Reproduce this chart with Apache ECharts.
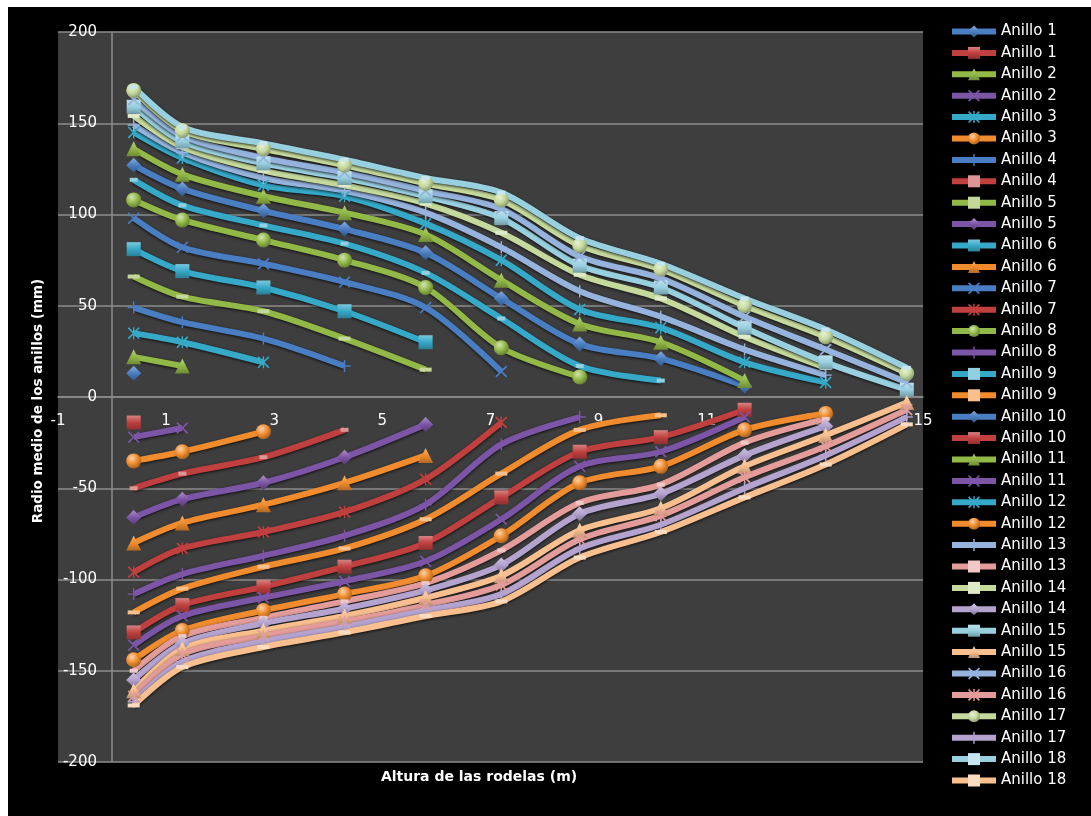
<!DOCTYPE html>
<html>
<head>
<meta charset="utf-8">
<script src="https://cdn.jsdelivr.net/npm/echarts@6/dist/echarts.min.js"></script>
<style>
  html, body { margin: 0; padding: 0; background: #ffffff; width: 1091px; height: 816px; overflow: hidden; }
  #chart { position: absolute; left: 8px; top: 7px; width: 1083px; height: 809px; background: #000000; }
</style>
</head>
<body>
<div id="chart"></div>
<script>
// Alturas de las rodelas (m)
const alturas = [0.4, 1.3, 2.8, 4.3, 5.8, 7.2, 8.65, 10.15, 11.7, 13.2, 14.7];

// Radio medio de cada anillo (mm), lado positivo, anillos 1..18
const radioSuperior = [
  [13],
  [22, 17],
  [35, 30, 19],
  [49, 41, 32, 17],
  [66, 55, 47, 32, 15],
  [81, 69, 60, 47, 30],
  [98, 82, 73, 63, 49, 14],
  [108, 97, 86, 75, 60, 27, 11],
  [119, 105, 94, 84, 68, 43, 17, 9],
  [127, 114, 102, 92, 79, 54, 29, 21, 6],
  [136, 122, 110, 101, 89, 64, 40, 30, 9],
  [145, 131, 116, 110, 95, 75, 48, 38, 19, 8],
  [149, 134, 120, 113, 101, 82, 58, 44, 26, 12],
  [154, 137, 124, 116, 106, 90, 67, 54, 33, 16],
  [159, 140, 128, 120, 110, 98, 72, 60, 38, 19, 4],
  [163, 143, 131, 123, 113, 103, 77, 65, 44, 26, 8],
  [168, 146, 136, 127, 117, 108, 83, 70, 50, 33, 13],
  [170, 148, 139, 130, 120, 112, 87, 73, 54, 37, 16]
];

// Radio medio de cada anillo (mm), lado negativo, anillos 1..18
const radioInferior = [
  [-14],
  [-22, -17],
  [-35, -30, -19],
  [-50, -42, -33, -18],
  [-66, -56, -47, -33, -15],
  [-80, -69, -59, -47, -32],
  [-96, -83, -74, -63, -45, -14],
  [-108, -97, -87, -76, -59, -26, -11],
  [-118, -105, -93, -83, -67, -42, -18, -10],
  [-129, -114, -104, -93, -80, -55, -30, -22, -7],
  [-136, -120, -110, -101, -90, -67, -38, -30, -11],
  [-144, -128, -117, -108, -98, -76, -47, -38, -18, -9],
  [-150, -131, -121, -112, -102, -84, -58, -48, -25, -12],
  [-155, -135, -124, -116, -106, -92, -64, -53, -32, -16],
  [-161, -138, -128, -120, -110, -98, -73, -61, -38, -21, -3],
  [-164, -141, -131, -123, -114, -103, -78, -65, -44, -27, -7],
  [-167, -145, -134, -126, -117, -108, -83, -70, -50, -32, -11],
  [-169, -148, -137, -129, -120, -112, -88, -74, -55, -37, -15]
];

const tituloY = 'Radio medio de los anillos (mm)';
const tituloX = 'Altura de las rodelas (m)';

// Paleta y marcadores en el orden de las series
const coloresBase = ['#4a7ec2', '#c0403f', '#92b847', '#7d55a6', '#36a9c8', '#f08c2e'];
const coloresClaros = ['#95b3dc', '#e39c9a', '#c4d99b', '#b4a3cf', '#98d0e0', '#f9bf8f'];
const marcadores = ['diamond', 'rect', 'triangle', 'x', 'star', 'circle', 'plus', 'dash', 'longdash'];

const PATH_X = 'path://M1,0 L5,4 L9,0 L10,1 L6,5 L10,9 L9,10 L5,6 L1,10 L0,9 L4,5 L0,1 Z';
const PATH_STAR = 'path://M1,0 L5,4 L9,0 L10,1 L6,5 L10,9 L9,10 L5,6 L1,10 L0,9 L4,5 L0,1 Z M4.4,0 L5.6,0 L5.6,10 L4.4,10 Z';
const PATH_PLUS = 'path://M4.4,0 L5.6,0 L5.6,4.4 L10,4.4 L10,5.6 L5.6,5.6 L5.6,10 L4.4,10 L4.4,5.6 L0,5.6 L0,4.4 L4.4,4.4 Z';

function mezcla(hex, otro, t) {
  const a = parseInt(hex.slice(1), 16), b = parseInt(otro.slice(1), 16);
  const r = Math.round(((a >> 16) & 255) * (1 - t) + ((b >> 16) & 255) * t);
  const g = Math.round(((a >> 8) & 255) * (1 - t) + ((b >> 8) & 255) * t);
  const bl = Math.round((a & 255) * (1 - t) + (b & 255) * t);
  return 'rgb(' + r + ',' + g + ',' + bl + ')';
}

function estiloMarcador(tipo, color) {
  if (tipo === 'circle') {
    return { symbol: 'circle', symbolSize: 15, fill: new echarts.graphic.RadialGradient(0.38, 0.32, 0.7, [
      { offset: 0, color: mezcla(color, '#ffffff', 0.6) },
      { offset: 0.55, color: color },
      { offset: 1, color: mezcla(color, '#000000', 0.3) }
    ]) };
  }
  const lineal = (c1, c2, c3) => new echarts.graphic.LinearGradient(0, 0, 0, 1, [
    { offset: 0, color: c1 }, { offset: 0.5, color: c2 }, { offset: 1, color: c3 }
  ]);
  switch (tipo) {
    case 'diamond':
      return { symbol: 'diamond', symbolSize: 15, fill: lineal(mezcla(color, '#ffffff', 0.35), color, mezcla(color, '#000000', 0.3)) };
    case 'rect':
      return { symbol: 'rect', symbolSize: 14, fill: lineal(mezcla(color, '#ffffff', 0.35), color, mezcla(color, '#000000', 0.25)) };
    case 'triangle':
      return { symbol: 'triangle', symbolSize: 15, fill: lineal(mezcla(color, '#ffffff', 0.3), color, mezcla(color, '#000000', 0.25)) };
    case 'x':
      return { symbol: PATH_X, symbolSize: 12, fill: color };
    case 'star':
      return { symbol: PATH_STAR, symbolSize: 12, fill: color };
    case 'plus':
      return { symbol: PATH_PLUS, symbolSize: 12, fill: color };
    case 'dash':
      return { symbol: 'rect', symbolSize: [8, 4], fill: mezcla(color, '#ffffff', 0.45) };
    default:
      return { symbol: 'rect', symbolSize: [12, 4], fill: mezcla(color, '#ffffff', 0.45) };
  }
}

function construirSerie(indice, nombre, radios) {
  const color = indice < 24 ? coloresBase[indice % 6] : coloresClaros[indice % 6];
  const m = estiloMarcador(marcadores[indice % 9], color);
  return {
    type: 'line',
    name: nombre,
    data: radios.map((r, j) => [alturas[j], r]),
    smooth: 0.3,
    symbol: m.symbol,
    symbolSize: m.symbolSize,
    showAllSymbol: true,
    lineStyle: { width: 6, color: color, shadowColor: 'rgba(0,0,0,0.8)', shadowBlur: 3, shadowOffsetY: 1 },
    itemStyle: { color: m.fill, borderWidth: 0 },
    emphasis: { disabled: true },
    z: 2
  };
}

const series = [];
for (let k = 0; k < 18; k++) {
  series.push(construirSerie(2 * k, 'Anillo ' + (k + 1) + ' superior', radioSuperior[k]));
  series.push(construirSerie(2 * k + 1, 'Anillo ' + (k + 1) + ' inferior', radioInferior[k]));
}

const chart = echarts.init(document.getElementById('chart'), null, { renderer: 'canvas' });
const fuente = '"DejaVu Sans", Verdana, sans-serif';

chart.setOption({
  animation: false,
  backgroundColor: '#000000',
  grid: {
    left: 50, top: 25, right: 168, bottom: 54,
    show: true, backgroundColor: '#3e3e3e', borderWidth: 0,
    containLabel: false
  },
  xAxis: {
    type: 'value', min: -1, max: 15, interval: 2,
    axisLine: { onZero: true, lineStyle: { color: '#8c8c8c', width: 1.5 } },
    axisTick: { show: false },
    splitLine: { show: false },
    // etiquetas justo debajo de la línea y = 0
    axisLabel: { color: '#ffffff', fontSize: 15, fontFamily: fuente, margin: -348 }
  },
  yAxis: {
    type: 'value', min: -200, max: 200, interval: 50,
    axisLine: { show: true, onZero: true, lineStyle: { color: '#8c8c8c', width: 1.5 } },
    axisTick: { show: false },
    splitLine: { show: true, lineStyle: { color: '#8c8c8c', width: 1.5 } },
    // etiquetas a la izquierda de la línea x = 0
    axisLabel: { color: '#ffffff', fontSize: 15, fontFamily: fuente, margin: -39 }
  },
  legend: {
    orient: 'vertical',
    left: 941, top: 17, padding: 0,
    itemWidth: 44, itemHeight: 15, itemGap: 6.4,
    formatter: n => n.replace(/ (superior|inferior)$/, ''),
    lineStyle: { width: 6 },
    textStyle: { color: '#ffffff', fontSize: 15, fontFamily: fuente, lineHeight: 15 },
    selectedMode: false
  },
  graphic: [
    {
      type: 'text', x: 30, y: 394, rotation: Math.PI / 2,
      style: { text: tituloY, fill: '#ffffff', font: 'bold 13.5px ' + fuente, align: 'center', verticalAlign: 'middle' }
    },
    {
      type: 'text', x: 471, y: 770,
      style: { text: tituloX, fill: '#ffffff', font: 'bold 14px ' + fuente, align: 'center', verticalAlign: 'middle' }
    }
  ],
  series: series
});
</script>
</body>
</html>
